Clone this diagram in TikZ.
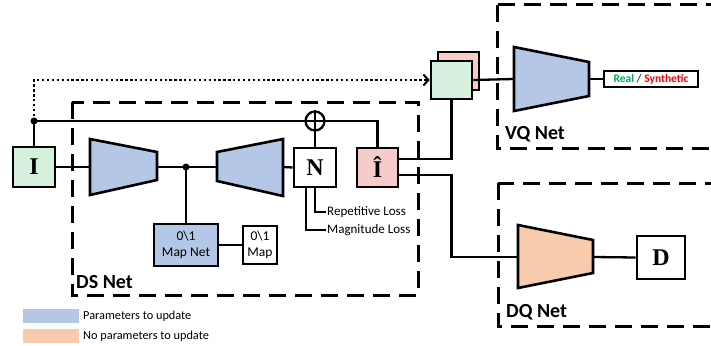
\documentclass[tikz,border=0pt]{standalone}
\usepackage{fontspec}
\setmainfont{Carlito}
\newfontfamily\lettfont{Liberation Serif}
\usetikzlibrary{arrows.meta,calc}
\definecolor{cgreen}{RGB}{213,240,220}
\definecolor{cpink}{RGB}{248,203,203}
\definecolor{cblue}{RGB}{180,199,231}
\definecolor{corange}{RGB}{248,203,173}
\definecolor{realgreen}{RGB}{0,176,80}
\definecolor{synred}{RGB}{255,0,0}
\begin{document}
\begin{tikzpicture}[x=1pt,y=-1pt,
  conn/.style={line width=2.3pt},
  boxst/.style={draw,line width=2.6pt,inner sep=0pt},
  letterbox/.style={boxst,font=\lettfont\bfseries\fontsize{24}{24}\selectfont},
  trap/.style={draw,line width=2.6pt,line join=miter},
  netbox/.style={draw,line width=3pt,dash pattern=on 17pt off 9pt},
  netlabel/.style={font=\bfseries\fontsize{20}{22}\selectfont,anchor=base west,inner sep=0pt},
  smalltext/.style={font=\fontsize{13}{14}\selectfont,anchor=west,inner sep=1pt},
  dotpt/.style={fill,circle,inner sep=0pt,minimum size=7pt}
]
\useasboundingbox (0,0) rectangle (711,345);
\clip (0,0) rectangle (711,345);

% dashed net boxes
\draw[netbox] (72,102) rectangle (418,295);
\draw[netbox] (497,5) rectangle (740,148);
\draw[netbox] (498,183) rectangle (740,326);
\node[netlabel] (dslabel) at (76,288) {DS Net};
\node[netlabel] (vqlabel) at (505,139) {VQ Net};
\node[netlabel] (dqlabel) at (506,317) {DQ Net};

% boxes
\node[letterbox,fill=cgreen,minimum width=42pt,minimum height=40pt] (I) at (34,167) {I};
\node[letterbox,fill=white,minimum width=42pt,minimum height=39pt] (N) at (315,167.5) {N};
\node[letterbox,fill=cpink,minimum width=41pt,minimum height=39pt] (Ihat) at (377.5,167.5) {Î};
\node[letterbox,fill=white,minimum width=48pt,minimum height=43pt] (D) at (661,257.5) {D};
\node[circle,draw,line width=2.3pt,minimum size=19pt,inner sep=0pt] (plus) at (315,121) {};
\draw[line width=2.3pt] (plus.north) -- (plus.south) (plus.west) -- (plus.east);

\node[boxst,fill=cblue,minimum width=64pt,minimum height=42pt,align=center,
      font=\fontsize{13.5}{15.5}\selectfont] (mapnet) at (186,245) {0\textbackslash 1\\Map Net};
\node[boxst,fill=white,minimum width=34pt,minimum height=38pt,align=center,
      font=\fontsize{13.5}{15.5}\selectfont] (map) at (260,245) {0\textbackslash 1\\Map};

\node[boxst,fill=cpink,minimum width=41pt,minimum height=38pt] (back) at (458.5,71) {};
\node[boxst,fill=cgreen,minimum width=41pt,minimum height=38pt] (front) at (451.5,80) {};

\node[draw,line width=2.2pt,minimum width=94pt,minimum height=16pt,inner sep=0pt,
      font=\bfseries\fontsize{11.5}{12}\selectfont] (rs) at (651,79)
      {\textcolor{realgreen}{Real} \textcolor{black!75}{/} \textcolor{synred}{Synthetic}};

% trapezoids
\draw[trap,fill=cblue] (90,139) -- (157,152) -- (157,180) -- (90,195) -- cycle;
\coordinate (e1in) at (90,167); \coordinate (e1out) at (157,167);
\draw[trap,fill=cblue] (217,152) -- (283,139) -- (283,196) -- (217,181) -- cycle;
\coordinate (e2in) at (217,167); \coordinate (e2out) at (283,167);
\draw[trap,fill=cblue] (514,47) -- (589,62) -- (589,96) -- (514,111) -- cycle;
\coordinate (vqin) at (514,79); \coordinate (vqout) at (589,79);
\draw[trap,fill=corange] (518,225) -- (593,240) -- (593,273) -- (518,288) -- cycle;
\coordinate (dqin) at (518,257); \coordinate (dqout) at (593,257);

% loss labels
\node[smalltext] (rep) at (326,212) {Repetitive Loss};
\node[smalltext] (mag) at (326,230) {Magnitude Loss};

% connectors
\coordinate (dotA) at (I.north |- plus.west);
\coordinate (dotB) at (mapnet.north |- e1out);
\draw[line width=2.3pt,dash pattern=on 2.3pt off 2.6pt,
      -{Straight Barb[length=5pt,width=11pt,line width=2pt]}]
      (dotA) -- (dotA |- front.west) -- (front.west);
\draw[conn] (I.north) -- (dotA) -- (plus.west);
\draw[conn] (plus.east) -| (Ihat.north);
\draw[conn] (N.north) -- (plus.south);
\draw[conn] (I.east) -- (e1in);
\draw[conn] (e1out) -- (e2in);
\draw[conn] (e2out) -- (N.west);
\draw[conn] (dotB) -- (mapnet.north);
\draw[conn] (mapnet.east) -- (map.west);
\draw[conn] (N.south) |- (rep.west);
\draw[conn] ([xshift=-9pt]N.south) |- (mag.west);
\draw[conn] ([yshift=8.5pt]Ihat.east) -| (front.south);
\coordinate (bend) at (front.south |- dqin);
\draw[conn] ([yshift=-7.5pt]Ihat.east) -| (bend) -- (dqin);
\draw[conn] (front.east) -- (vqin);
\draw[conn] (vqout) -- (rs.west);
\draw[conn] (dqout) -- (D.west);
\node[dotpt] at (dotA) {};
\node[dotpt] at (dotB) {};

% legend
\node[fill=cblue,minimum width=56pt,minimum height=14pt,inner sep=0pt] (lg1) at (51,316) {};
\node[fill=corange,minimum width=56pt,minimum height=14pt,inner sep=0pt] (lg2) at (51,336) {};
\node[smalltext,font=\fontsize{12.3}{13}\selectfont] (lt1) at (82,316) {Parameters to update};
\node[smalltext,font=\fontsize{12.3}{13}\selectfont] (lt2) at (82,336) {No parameters to update};
\end{tikzpicture}
\end{document}
